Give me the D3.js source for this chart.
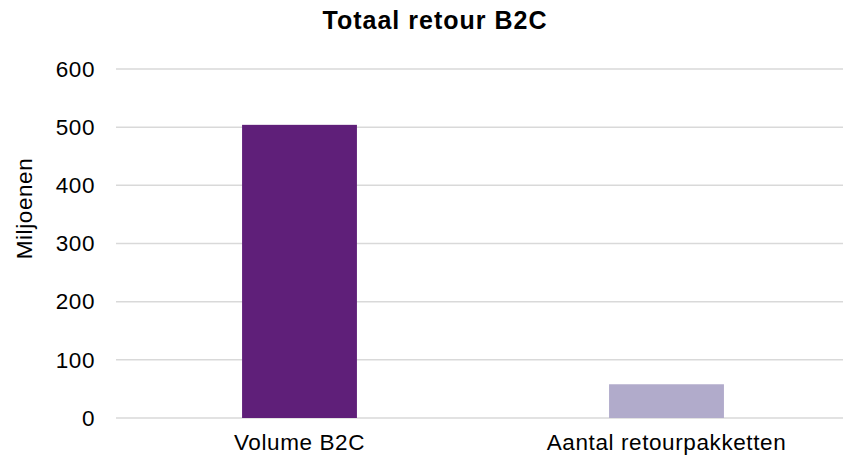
<!DOCTYPE html>
<html>
<head>
<meta charset="utf-8">
<script src="https://cdn.jsdelivr.net/npm/d3@7"></script>
<style>
  body { margin: 0; background: #fff; }
  text { font-family: Arial, "Liberation Sans", sans-serif; fill: #000; }
</style>
</head>
<body>
<div id="root"></div>
<script>
const categories = ['Volume B2C', 'Aantal retourpakketten'];
const values = [504, 58];
const barColors = ['#5f1f79', '#b1abcb'];
const yTicks = [0, 100, 200, 300, 400, 500, 600];

const width = 843, height = 459;
const margin = { top: 69, right: -7, bottom: 41, left: 116 };
const labelFont = 22.5;
const labelSpacing = 0.6;

const svg = d3.select('#root')
    .append('svg')
    .attr('width', width)
    .attr('height', height);

// scales
const x = d3.scaleBand()
    .domain(categories)
    .range([margin.left, width - margin.right]);
const y = d3.scaleLinear()
    .domain([0, 600])
    .range([height - margin.bottom, margin.top]);

// gridlines
svg.append('g')
    .selectAll('line')
    .data(yTicks)
    .enter()
    .append('line')
    .attr('x1', margin.left)
    .attr('x2', width)
    .attr('y1', d => y(d))
    .attr('y2', d => y(d))
    .attr('stroke', '#d9d9d9')
    .attr('stroke-width', 1.5);

// y axis labels
const yAxis = d3.axisLeft(y).tickValues(yTicks).tickSize(0).tickPadding(21);
const yg = svg.append('g')
    .attr('transform', `translate(${margin.left},0)`)
    .call(yAxis);
yg.select('.domain').remove();
yg.selectAll('text')
    .attr('font-size', labelFont)
    .attr('letter-spacing', labelSpacing)
    .attr('font-family', 'Arial, "Liberation Sans", sans-serif');

// bars
const barW = x.bandwidth() * 0.313;
svg.selectAll('.bar')
    .data(values)
    .enter()
    .append('rect')
    .attr('class', 'bar')
    .attr('x', (d, i) => x(categories[i]) + (x.bandwidth() - barW) / 2)
    .attr('y', d => y(d))
    .attr('width', barW)
    .attr('height', d => y(0) - y(d))
    .attr('fill', (d, i) => barColors[i]);

// x axis labels
const xAxis = d3.axisBottom(x).tickSize(0).tickPadding(16);
const xg = svg.append('g')
    .attr('transform', `translate(0,${y(0)})`)
    .call(xAxis);
xg.select('.domain').remove();
xg.selectAll('text')
    .attr('font-size', labelFont)
    .attr('letter-spacing', labelSpacing)
    .attr('font-family', 'Arial, "Liberation Sans", sans-serif');

// title
svg.append('text')
    .text('Totaal retour B2C')
    .attr('x', 435)
    .attr('y', 29)
    .attr('text-anchor', 'middle')
    .attr('font-weight', 'bold')
    .attr('letter-spacing', 1)
    .attr('font-size', 25);

// y title
svg.append('text')
    .text('Miljoenen')
    .attr('text-anchor', 'middle')
    .attr('font-size', labelFont)
    .attr('letter-spacing', labelSpacing)
    .attr('transform', `translate(32,${y(300) - 35}) rotate(-90)`);
</script>
</body>
</html>
